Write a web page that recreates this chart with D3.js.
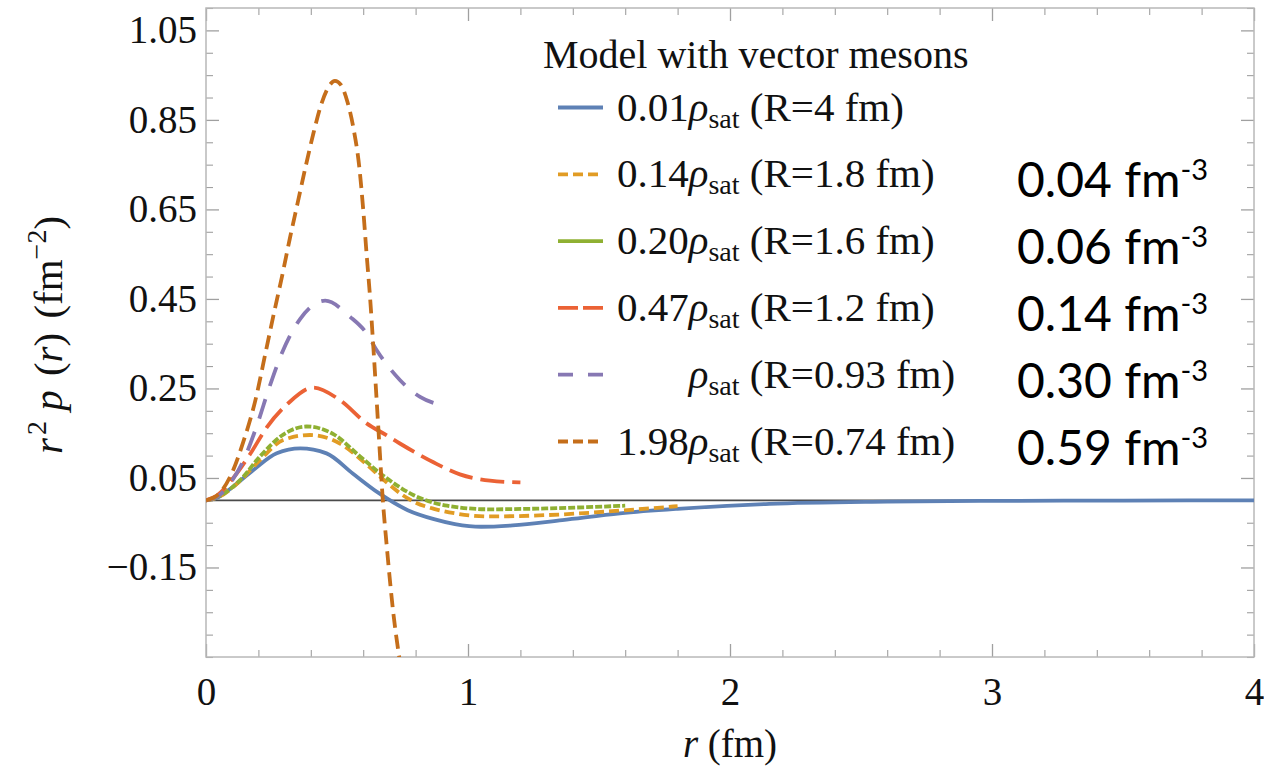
<!DOCTYPE html>
<html lang="en">
<head>
  <meta charset="UTF-8">
  <title>Pressure distribution</title>
  <style>
    * {box-sizing: border-box;}
    html, body {margin: 0; padding: 0; background: #fff;}
    svg {display: block;}
  </style>
</head>
<body>
  <svg id="chart" width="1264" height="774"></svg>

  <script src="https://d3js.org/d3.v7.min.js"></script>
  <script>
    // r (fm) and r^2 p(r) (fm^-2)
    const rBlue   = [0, 0.04, 0.104, 0.181, 0.27, 0.36, 0.46, 0.56, 0.66, 0.77, 0.87, 0.95, 1.05, 1.17, 1.36, 1.58, 1.8, 2.15, 2.6, 3.1, 3.5, 4.0]
    const pBlue   = [0, 0.005, 0.031, 0.068, 0.105, 0.116, 0.105, 0.06, 0.016, -0.022, -0.042, -0.053, -0.059, -0.056, -0.044, -0.029, -0.019, -0.008, -0.003, -0.001, -0.0005, 0]
    const rYellow = [0, 0.05, 0.12, 0.206, 0.295, 0.397, 0.511, 0.613, 0.68, 0.75, 0.8, 0.87, 0.95, 1.08, 1.3, 1.58, 1.8]
    const pYellow = [0, 0.008, 0.038, 0.09, 0.135, 0.146, 0.127, 0.08, 0.045, 0.012, -0.005, -0.019, -0.029, -0.036, -0.033, -0.023, -0.013]
    const rGreen  = [0, 0.053, 0.13, 0.206, 0.295, 0.384, 0.486, 0.588, 0.677, 0.791, 0.92, 1.084, 1.3, 1.6]
    const pGreen  = [0, 0.01, 0.045, 0.098, 0.147, 0.165, 0.148, 0.098, 0.055, 0.012, -0.012, -0.02, -0.018, -0.012]
    const rRed    = [0, 0.04, 0.104, 0.168, 0.232, 0.314, 0.41, 0.511, 0.613, 0.69, 0.74, 0.868, 0.969, 1.084, 1.2]
    const pRed    = [0, 0.01, 0.05, 0.103, 0.163, 0.217, 0.252, 0.224, 0.172, 0.145, 0.127, 0.085, 0.058, 0.044, 0.04]
    const rPurple = [0, 0.05, 0.092, 0.142, 0.193, 0.238, 0.289, 0.359, 0.455, 0.55, 0.613, 0.651, 0.74, 0.817, 0.893, 0.91]
    const pPurple = [0, 0.011, 0.038, 0.088, 0.165, 0.246, 0.328, 0.405, 0.446, 0.41, 0.373, 0.336, 0.269, 0.231, 0.213, 0.21]
    const rBrown  = [0, 0.05, 0.098, 0.142, 0.187, 0.232, 0.26, 0.29, 0.32, 0.35, 0.38, 0.41, 0.44, 0.47, 0.492, 0.515, 0.54, 0.562, 0.585, 0.6, 0.613, 0.626, 0.639, 0.658, 0.675, 0.69, 0.715, 0.74]
    const pBrown  = [0, 0.015, 0.06, 0.13, 0.22, 0.343, 0.42, 0.5, 0.585, 0.665, 0.745, 0.82, 0.885, 0.926, 0.937, 0.928, 0.89, 0.834, 0.745, 0.65, 0.55, 0.455, 0.34, 0.16, 0, -0.103, -0.252, -0.36]

    const densities = ['0.01', '0.14', '0.20', '0.47', '', '1.98']
    const radii = ['4', '1.8', '1.6', '1.2', '0.93', '0.74']
    const densityFm = ['0.04', '0.06', '0.14', '0.30', '0.59']

    const xTicks = [0, 1, 2, 3, 4]
    const yTicks = [-0.15, 0.05, 0.25, 0.45, 0.65, 0.85, 1.05]

    const series = [
      {r: rBlue, p: pBlue, color: '#5e81b5', dash: null, legendDash: null},
      {r: rYellow, p: pYellow, color: '#e19c24', dash: '10,5', legendDash: '10,5'},
      {r: rGreen, p: pGreen, color: '#8fb032', dash: '7,2', legendDash: null},
      {r: rRed, p: pRed, color: '#eb6235', dash: '24,8', legendDash: '20,5'},
      {r: rPurple, p: pPurple, color: '#8778b3', dash: '20,14', legendDash: '15,15'},
      {r: rBrown, p: pBrown, color: '#c56e1a', dash: '14,7', legendDash: '10,5'}
    ]

    const serif = '"Liberation Serif", "Times New Roman", serif'
    const svg = d3.select('#chart')
    const pLeft = 206, pRight = 1254, pTop = 8, pBottom = 657

    const x = d3.scaleLinear().domain([0, 4]).range([pLeft, pRight])
    const y = d3.scaleLinear().domain([-0.35, 1.1]).range([pBottom, pTop])

    const frameColor = '#b8b8b8'
    const tickColor = '#a0a0a0'

    svg.append('defs').append('clipPath').attr('id', 'plotclip')
      .append('rect').attr('x', pLeft).attr('y', pTop).attr('width', pRight - pLeft).attr('height', pBottom - pTop)

    // minor ticks
    const xMinor = d3.range(0, 4.001, 0.2).filter(v => Math.abs(v - Math.round(v)) > 1e-6)
    const yMinor = d3.range(-0.35, 1.1001, 0.05).filter(v => !yTicks.some(t => Math.abs(t - v) < 1e-6))

    const axes = [
      [d3.axisBottom(x), `translate(0,${pBottom})`, xTicks, xMinor],
      [d3.axisTop(x), `translate(0,${pTop})`, xTicks, xMinor],
      [d3.axisLeft(y), `translate(${pLeft},0)`, yTicks, yMinor],
      [d3.axisRight(y), `translate(${pRight},0)`, yTicks, yMinor]
    ]
    axes.forEach(([ax, tr, major, minor]) => {
      svg.append('g').attr('transform', tr)
        .call(ax.tickValues(major).tickSize(-13).tickFormat(() => ''))
        .call(g => g.select('.domain').remove())
        .call(g => g.selectAll('text').remove())
        .call(g => g.selectAll('line').attr('stroke', tickColor).attr('stroke-width', 1.3))
      svg.append('g').attr('transform', tr)
        .call(ax.tickValues(minor).tickSize(-7).tickFormat(() => ''))
        .call(g => g.select('.domain').remove())
        .call(g => g.selectAll('text').remove())
        .call(g => g.selectAll('line').attr('stroke', tickColor).attr('stroke-width', 1.1))
    })

    // tick labels
    svg.append('g').attr('transform', `translate(0,${pBottom})`)
      .call(d3.axisBottom(x).tickValues(xTicks).tickSize(0).tickPadding(20).tickFormat(d3.format('d')))
      .call(g => g.select('.domain').remove())
      .call(g => g.selectAll('text')
        .style('font-family', serif).style('font-size', '39px').attr('fill', '#111'))

    svg.append('g').attr('transform', `translate(${pLeft},0)`)
      .call(d3.axisLeft(y).tickValues(yTicks).tickSize(0).tickPadding(9).tickFormat(d3.format('.2f')))
      .call(g => g.select('.domain').remove())
      .call(g => g.selectAll('text')
        .style('font-family', serif).style('font-size', '39px').attr('fill', '#111'))

    // frame
    svg.append('rect')
      .attr('x', pLeft).attr('y', pTop).attr('width', pRight - pLeft).attr('height', pBottom - pTop)
      .attr('fill', 'none').attr('stroke', frameColor).attr('stroke-width', 1.5)

    // zero axis
    svg.append('line')
      .attr('x1', x(0)).attr('x2', x(4)).attr('y1', y(0)).attr('y2', y(0))
      .attr('stroke', '#4a4a4a').attr('stroke-width', 1.8)

    const line = d3.line()
      .x(d => x(d[0]))
      .y(d => y(d[1]))
      .curve(d3.curveMonotoneX)

    svg.append('g').attr('clip-path', 'url(#plotclip)')
      .selectAll('path')
      .data(series)
      .join('path')
      .attr('d', s => line(s.r.map((r, i) => [r, s.p[i]])))
      .attr('fill', 'none')
      .attr('stroke', s => s.color)
      .attr('stroke-width', 3.8)
      .attr('stroke-dasharray', s => s.dash)

    // legend
    const legend = svg.append('g').attr('font-family', serif)
    legend.append('text')
      .attr('x', 543).attr('y', 68)
      .attr('font-size', 40).attr('fill', '#111')
      .text('Model with vector mesons')

    const rowY = i => 107.5 + i * 66.8
    const rows = legend.selectAll('g.row')
      .data(series)
      .join('g').attr('class', 'row')

    rows.append('line')
      .attr('x1', 558).attr('x2', 603)
      .attr('y1', (d, i) => rowY(i)).attr('y2', (d, i) => rowY(i))
      .attr('stroke', d => d.color).attr('stroke-width', 3.8)
      .attr('stroke-dasharray', d => d.legendDash)

    const texts = rows.append('text')
      .attr('x', 617).attr('y', (d, i) => rowY(i) + 13)
      .attr('font-size', 41).attr('fill', '#111')
    texts.append('tspan').attr('class', 'num').text((d, i) => densities[i])
    texts.append('tspan').attr('font-style', 'italic').text('ρ')
    texts.append('tspan').attr('font-size', 28).attr('dy', 7).text('sat')
    texts.append('tspan').attr('dy', -7).text((d, i) => ` (R=${radii[i]} fm)`)

    // the row without a number keeps its rho lined up with the others
    const numWidth = texts.filter((d, i) => i === 5).select('.num').node().getComputedTextLength()
    texts.filter((d, i) => i === 4).attr('x', 617 + numWidth)

    // densities in fm^-3
    const ann = svg.append('g')
      .attr('font-family', 'Lato, "Open Sans", sans-serif')
      .attr('fill', '#000')
    densityFm.forEach((v, i) => {
      const t = ann.append('text')
        .attr('x', 1017).attr('y', rowY(i + 1) + 23)
        .attr('font-size', 48)
      t.append('tspan').text(`${v} fm`)
      t.append('tspan').attr('font-size', 29).attr('dy', -17).text('-3')
    })

    // axis labels
    svg.append('text')
      .attr('font-family', serif)
      .attr('x', x(2)).attr('y', 757)
      .attr('text-anchor', 'middle').attr('font-size', 39).attr('fill', '#111')
      .call(t => {
        t.append('tspan').attr('font-style', 'italic').text('r')
        t.append('tspan').text(' (fm)')
      })

    svg.append('text')
      .attr('font-family', serif)
      .attr('transform', 'translate(62,335) rotate(-90)')
      .attr('text-anchor', 'middle').attr('font-size', 41).attr('fill', '#111')
      .call(t => {
        t.append('tspan').attr('font-style', 'italic').text('r')
        t.append('tspan').attr('font-size', 28).attr('dy', -16).attr('dx', 3).text('2')
        t.append('tspan').attr('dy', 16).text(' ')
        t.append('tspan').attr('font-style', 'italic').text('p')
        t.append('tspan').attr('dx', 4).text(' (')
        t.append('tspan').attr('font-style', 'italic').text('r')
        t.append('tspan').text(')')
        t.append('tspan').attr('dx', 4).text(' (fm')
        t.append('tspan').attr('font-size', 28).attr('dy', -16).text('−2')
        t.append('tspan').attr('dy', 16).text(')')
      })
  </script>
</body>
</html>
